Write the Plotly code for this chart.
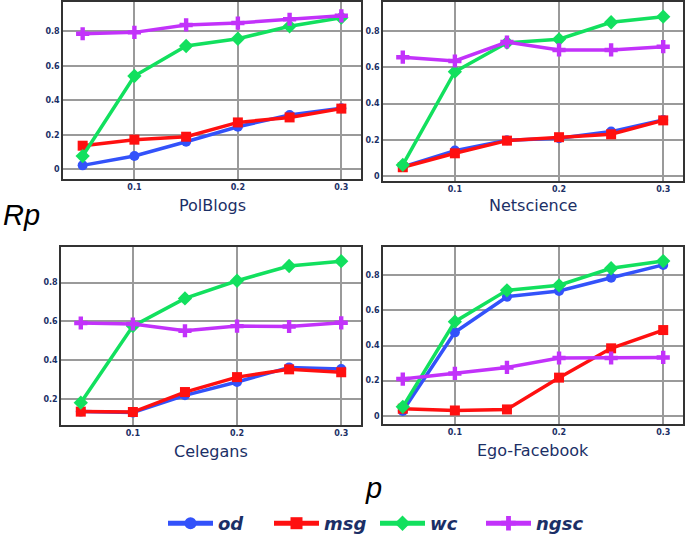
import plotly.graph_objects as go

p_values = [0.05, 0.10, 0.15, 0.20, 0.25, 0.30]
series_names = ["od", "msg", "wc", "ngsc"]
datasets = ["PolBlogs", "Netscience", "Celegans", "Ego-Facebook"]

polblogs_od = [0.023, 0.077, 0.160, 0.247, 0.315, 0.354]
polblogs_msg = [0.137, 0.172, 0.189, 0.272, 0.301, 0.352]
polblogs_wc = [0.077, 0.541, 0.715, 0.757, 0.829, 0.879]
polblogs_ngsc = [0.786, 0.794, 0.837, 0.848, 0.870, 0.890]

netscience_od = [0.050, 0.140, 0.197, 0.208, 0.245, 0.309]
netscience_msg = [0.048, 0.125, 0.195, 0.214, 0.230, 0.307]
netscience_wc = [0.061, 0.576, 0.736, 0.755, 0.849, 0.880]
netscience_ngsc = [0.656, 0.635, 0.740, 0.696, 0.696, 0.714]

celegans_od = [0.135, 0.130, 0.219, 0.288, 0.363, 0.355]
celegans_msg = [0.135, 0.133, 0.236, 0.313, 0.353, 0.338]
celegans_wc = [0.181, 0.576, 0.719, 0.810, 0.886, 0.911]
celegans_ngsc = [0.592, 0.587, 0.552, 0.576, 0.574, 0.593]

ego_od = [0.027, 0.475, 0.678, 0.710, 0.786, 0.859]
ego_msg = [0.040, 0.030, 0.036, 0.217, 0.384, 0.488]
ego_wc = [0.051, 0.536, 0.714, 0.743, 0.840, 0.881]
ego_ngsc = [0.209, 0.241, 0.275, 0.329, 0.329, 0.332]

y_tick_vals = [0, 0.2, 0.4, 0.6, 0.8]
y_tick_text = ["0", "0.2", "0.4", "0.6", "0.8"]
x_tick_vals = [0.1, 0.2, 0.3]
x_tick_text = ["0.1", "0.2", "0.3"]

panel_data = [
    [polblogs_od, polblogs_msg, polblogs_wc, polblogs_ngsc],
    [netscience_od, netscience_msg, netscience_wc, netscience_ngsc],
    [celegans_od, celegans_msg, celegans_wc, celegans_ngsc],
    [ego_od, ego_msg, ego_wc, ego_ngsc],
]

colors = ["#3352fa", "#ff1010", "#12e05e", "#c232fa"]
symbols = ["circle", "square", "diamond", "cross"]
msizes = [10, 10, 11, 11]

W, H = 685, 542
# panel pixel boxes: (left, right, top, bottom)
boxes = [(63, 361, 2, 179), (383, 683, 2, 181), (61, 361, 247, 425), (383, 683, 247, 424)]
y_ranges = [[-0.056, 0.970], [-0.028, 0.961], [0.066, 0.984], [-0.047, 0.961]]
x_range = [0.031, 0.319]

navy = "#1b2f66"
fig = go.Figure()
layout = {}
for i, (name, data) in enumerate(zip(datasets, panel_data)):
    xa = "x" if i == 0 else f"x{i+1}"
    ya = "y" if i == 0 else f"y{i+1}"
    for j, s in enumerate(series_names):
        fig.add_trace(go.Scatter(
            x=p_values, y=data[j], mode="lines+markers", name=s,
            xaxis=xa, yaxis=ya, showlegend=(i == 0),
            line=dict(color=colors[j], width=3.5),
            marker=dict(symbol=symbols[j], size=msizes[j], color=colors[j]),
            legendrank=j,
        ))
    l, r, t, b = boxes[i]
    axcommon = dict(showgrid=True, gridcolor="#9a9a9a", gridwidth=1.5, zeroline=False,
                    showline=True, mirror=True, linecolor="#333333", linewidth=1.5,
                    ticks="", tickfont=dict(family="DejaVu Sans", size=8, color=navy, weight="bold"))
    layout["xaxis" if i == 0 else f"xaxis{i+1}"] = dict(
        domain=[l / W, r / W], range=x_range, anchor=ya,
        tickvals=x_tick_vals, ticktext=x_tick_text, **axcommon)
    layout["yaxis" if i == 0 else f"yaxis{i+1}"] = dict(
        domain=[1 - b / H, 1 - t / H], range=y_ranges[i], anchor=xa,
        tickvals=y_tick_vals, ticktext=y_tick_text, **axcommon)

title_pos = [(212, 205), (533, 206), (211, 451), (533, 450)]
annotations = []
for name, (cx, cy) in zip(datasets, title_pos):
    annotations.append(dict(text=name, x=cx / W, y=1 - cy / H, xref="paper", yref="paper",
                            showarrow=False, xanchor="center", yanchor="middle",
                            font=dict(family="DejaVu Sans", size=16, color=navy)))
annotations.append(dict(text="<i>Rp</i>", x=21 / W, y=1 - 215 / H, xref="paper", yref="paper",
                        showarrow=False, xanchor="center", yanchor="middle",
                        font=dict(family="Liberation Sans", size=29, color="black")))
annotations.append(dict(text="<i>p</i>", x=373 / W, y=1 - 488 / H, xref="paper", yref="paper",
                        showarrow=False, xanchor="center", yanchor="middle",
                        font=dict(family="Liberation Sans", size=29, color="black")))

fig.update_layout(
    width=W, height=H, margin=dict(l=0, r=0, t=0, b=0),
    paper_bgcolor="white", plot_bgcolor="white",
    annotations=annotations,
    legend=dict(orientation="h", x=375 / W, y=0, xanchor="center", yanchor="bottom",
                font=dict(family="DejaVu Sans", size=18, color=navy, weight="bold", style="italic"),
                itemwidth=45, itemsizing="constant", entrywidth=46, entrywidthmode="pixels",
                bgcolor="rgba(0,0,0,0)"),
    **layout,
)

fig.write_html("out.html", post_script="document.body.style.margin='0';",
               config={"displayModeBar": False})
